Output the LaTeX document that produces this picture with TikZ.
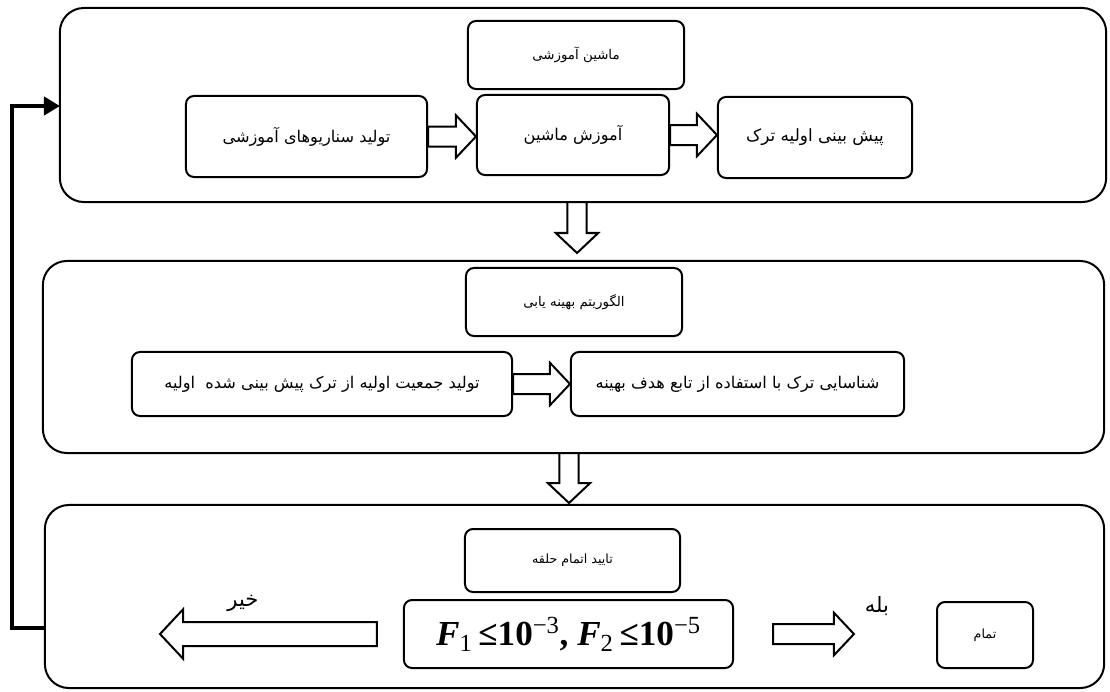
\documentclass[tikz,border=0pt]{standalone}
\usepackage{fontspec}
\usetikzlibrary{calc,arrows.meta}
\newfontfamily\fa[Script=Arabic]{DejaVu Sans}
\newfontfamily\tnr{Liberation Serif}
\TeXXeTstate=1
\newcommand{\fatxt}[1]{{\fa\beginR #1\endR}}
\newcommand{\condtxt}{{\tnr\bfseries\itshape F}\textsubscript{\tnr 1}\,{\tnr\bfseries ≤10}\textsuperscript{\tnr −3}{\tnr\bfseries, \itshape F}\textsubscript{\tnr 2}\,{\tnr\bfseries ≤10}\textsuperscript{\tnr −5}}
% hollow block arrows: right, left and down
\newcommand{\rarrow}[2]{%
  \draw[blockarr] let \p1=(#1), \p2=(#2) in
    (\x1,\y1+0.25cm) -- (\x2-0.5cm,\y1+0.25cm) -- (\x2-0.5cm,\y1+0.53cm)
    -- (\x2,\y1) -- (\x2-0.5cm,\y1-0.53cm) -- (\x2-0.5cm,\y1-0.25cm)
    -- (\x1,\y1-0.25cm) -- cycle;}
\newcommand{\larrow}[2]{%
  \draw[blockarr] let \p1=(#1), \p2=(#2) in
    (\x1,\y1+0.3cm) -- (\x2+0.58cm,\y1+0.3cm) -- (\x2+0.58cm,\y1+0.62cm)
    -- (\x2,\y1) -- (\x2+0.58cm,\y1-0.62cm) -- (\x2+0.58cm,\y1-0.3cm)
    -- (\x1,\y1-0.3cm) -- cycle;}
\newcommand{\darrow}[2]{%
  \draw[blockarr] let \p1=(#1), \p2=(#2) in
    (\x1+0.24cm,\y1) -- (\x1+0.24cm,\y2+0.5cm) -- (\x1+0.53cm,\y2+0.5cm)
    -- (\x1,\y2) -- (\x1-0.53cm,\y2+0.5cm) -- (\x1-0.24cm,\y2+0.5cm)
    -- (\x1-0.24cm,\y1) -- cycle;}

\begin{document}
\begin{tikzpicture}[x=0.025cm, y=-0.025cm,
  panel/.style={draw, line width=0.05cm, rounded corners=0.6cm},
  box/.style={draw, line width=0.05cm, rounded corners=0.2cm, inner sep=0pt,
    font=\fontsize{11.5}{14}\selectfont},
  blockarr/.style={draw, line width=0.05cm, fill=white},
  lbl/.style={inner sep=0pt, font=\fontsize{15}{17}\selectfont},
  feedback/.style={line width=0.1cm, -{Triangle[length=0.4cm,width=0.45cm]}}]
	\useasboundingbox (0,0) rectangle (1110,691);

	% the three stages
	\node[panel, minimum width=26.15cm, minimum height=4.85cm] (learnpanel) at (583,105) {};
	\node[panel, minimum width=26.525cm, minimum height=4.8cm] (optpanel) at (573.5,357) {};
	\node[panel, minimum width=26.475cm, minimum height=4.575cm] (checkpanel) at (574.5,596.5) {};

	% machine learning
	\node[box, minimum width=5.4cm, minimum height=1.7cm, font=\fontsize{9.5}{12}\selectfont] (mach) at (576,55) {\fatxt{ماشین آموزشی}};
	\node[box, minimum width=6.025cm, minimum height=2.025cm] (gen) at (306.5,136.5) {\fatxt{تولید سناریوهای آموزشی}};
	\node[box, minimum width=4.8cm, minimum height=2cm] (train) at (573,135) {\fatxt{آموزش ماشین}};
	\node[box, minimum width=4.85cm, minimum height=2.025cm, font=\fontsize{12}{14}\selectfont] (pred) at (815,137.5) {\fatxt{پیش بینی اولیه ترک}};
	\rarrow{gen.east}{train.west}
	\rarrow{train.east}{pred.west}

	% optimisation
	\node[box, minimum width=5.4cm, minimum height=1.7cm, font=\fontsize{9.5}{12}\selectfont] (opt) at (574,302) {\fatxt{الگوریتم بهینه یابی}};
	\node[box, minimum width=9.5cm, minimum height=1.6cm] (pop) at (322,384) {\fatxt{تولید جمعیت اولیه از ترک پیش بینی شده\ \ اولیه}};
	\node[box, minimum width=8.325cm, minimum height=1.6cm] (ident) at (737.5,384) {\fatxt{شناسایی ترک با استفاده از تابع هدف بهینه}};
	\rarrow{pop.east}{ident.west}

	% stopping check
	\node[box, minimum width=5.375cm, minimum height=1.575cm, font=\fontsize{9}{11}\selectfont] (check) at (572.5,560.5) {\fatxt{تایید اتمام حلقه}};
	\node[box, minimum width=8.225cm, minimum height=1.7cm, font=\fontsize{25}{29}\selectfont] (cond) at (568.5,634) {\condtxt};
	\node[box, minimum width=2.4cm, minimum height=1.65cm, font=\fontsize{9}{11}\selectfont] (done) at (985,635) {\fatxt{تمام}};

	\coordinate (notail) at ([xshift=-0.65cm]cond.west);
	\coordinate (notip) at (160,634);
	\coordinate (yestail) at ([xshift=0.975cm]cond.east);
	\coordinate (yestip) at ([xshift=-2.05cm]done.west);
	\larrow{notail}{notip}
	\rarrow{yestail}{yestip}
	\node[lbl] (nolbl) at (243,603) {\fatxt{خیر}};
	\node[lbl] (yeslbl) at (877,606) {\fatxt{بله}};

	% between the stages
	\coordinate (up1) at (577,202);
	\coordinate (down1) at (577,253);
	\coordinate (up2) at (569,453);
	\coordinate (down2) at (569,503);
	\darrow{up1}{down1}
	\darrow{up2}{down2}

	% back to the start
	\coordinate (fbstart) at (45,628);
	\coordinate (fbend) at (60,106);
	\draw[feedback] (fbstart) -- (12,628) |- (fbend);
\end{tikzpicture}
\end{document}
